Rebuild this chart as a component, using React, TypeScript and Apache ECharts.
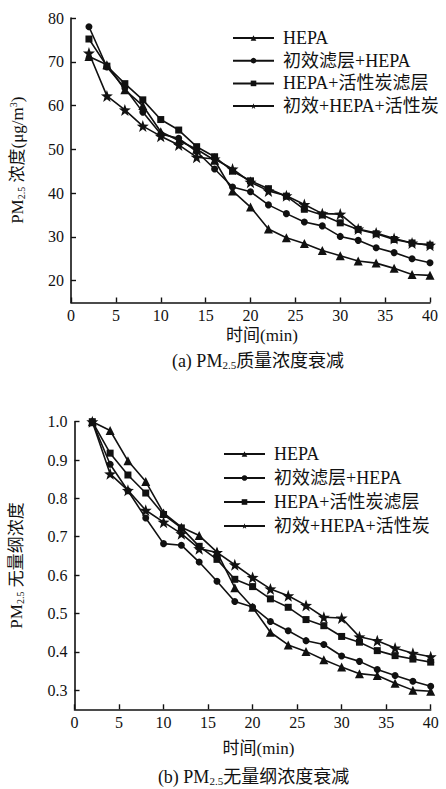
import React, { useEffect, useRef } from 'react';
import * as echarts from 'echarts';

const times = [2, 4, 6, 8, 10, 12, 14, 16, 18, 20, 22, 24, 26, 28, 30, 32, 34, 36, 38, 40];
const seriesNames = ['HEPA', '初效滤层+HEPA', 'HEPA+活性炭滤层', '初效+HEPA+活性炭'];

// (a) PM2.5 mass concentration (μg/m³)
const massHEPA = [71.2, 69.3, 63.6, 60, 54, 52, 50, 47.5, 40.5, 36.8, 31.8, 29.8, 28.5, 26.9, 25.7, 24.5, 24.0, 22.8, 21.4, 21.2];
const massPre = [78, 68.8, 64, 58.5, 53.5, 52.5, 49.5, 45.5, 41.4, 40.3, 37.3, 35.3, 33.4, 32.5, 30.1, 29.2, 27.5, 26.4, 25.0, 24.1];
const massCarbon = [75.2, 69, 65, 61.3, 56.8, 54.4, 50.6, 48.3, 45, 42.8, 41, 39.3, 36.3, 35, 33.2, 31.7, 30.7, 29.4, 28.6, 28.1];
const massAll = [72, 62.2, 59, 55.3, 53, 51, 48.2, 47.8, 45.5, 42.5, 40.5, 39.4, 37.4, 35.3, 35.2, 31.8, 30.9, 29.6, 28.6, 28.1];

// (b) dimensionless concentration
const normHEPA = [1.0, 0.977, 0.898, 0.844, 0.762, 0.725, 0.703, 0.66, 0.567, 0.516, 0.451, 0.418, 0.401, 0.379, 0.36, 0.343, 0.338, 0.318, 0.30, 0.297];
const normPre = [1.0, 0.889, 0.82, 0.749, 0.682, 0.678, 0.634, 0.584, 0.531, 0.517, 0.479, 0.455, 0.429, 0.419, 0.389, 0.375, 0.354, 0.338, 0.323, 0.31];
const normCarbon = [1.0, 0.918, 0.861, 0.814, 0.758, 0.723, 0.675, 0.641, 0.589, 0.57, 0.538, 0.516, 0.484, 0.468, 0.44, 0.425, 0.403, 0.39, 0.381, 0.373];
const normAll = [1.0, 0.864, 0.821, 0.769, 0.738, 0.708, 0.669, 0.659, 0.627, 0.594, 0.564, 0.546, 0.521, 0.49, 0.488, 0.439, 0.429, 0.41, 0.396, 0.387];

const xTicks = [0, 5, 10, 15, 20, 25, 30, 35, 40];
const yTicksA = [20, 30, 40, 50, 60, 70, 80];
const yTicksB = [0.3, 0.4, 0.5, 0.6, 0.7, 0.8, 0.9, 1.0];

const symbols = ['triangle', 'circle', 'rect', 'path://M50,0 L62,34 L98,35 L69,57 L80,92 L50,71 L20,92 L31,57 L2,35 L38,34 Z'];
const symbolSizes = [9, 7, 7, 12];

const FONT = '"Liberation Serif", "Times New Roman", "Noto Sans CJK SC", serif';
const BLACK = '#111';

const richSub = {
  sub: { fontSize: 10, fontFamily: FONT, color: BLACK, verticalAlign: 'bottom', lineHeight: 18 },
  sup: { fontSize: 10, fontFamily: FONT, color: BLACK, verticalAlign: 'top', lineHeight: 18 },
};

export default function App() {
  const ref = useRef<HTMLDivElement>(null);
  useEffect(() => {
    const chart = echarts.init(ref.current!, null, { renderer: 'svg' });

    const makeSeries = (gridIdx: number, arrays: number[][]) =>
      arrays.map((vals, i) => ({
        name: seriesNames[i],
        type: 'line',
        xAxisIndex: gridIdx,
        yAxisIndex: gridIdx,
        data: times.map((t, j) => [t, vals[j]]),
        symbol: symbols[i],
        symbolSize: symbolSizes[i],
        showAllSymbol: true,
        lineStyle: { color: BLACK, width: 1.6 },
        itemStyle: { color: BLACK, borderWidth: 0 },
        z: 2 + i,
      }));

    const xAxisBase = {
      type: 'value',
      min: 0,
      max: 40,
      interval: 5,
      axisLine: { lineStyle: { color: BLACK, width: 1.6 } },
      axisTick: { inside: true, length: 5, lineStyle: { color: BLACK, width: 1.4 } },
      axisLabel: { color: BLACK, fontSize: 16, fontFamily: FONT, margin: 5, customValues: xTicks },
      splitLine: { show: false },
    };

    const yAxisCommon = {
      type: 'value',
      axisLine: { show: true, lineStyle: { color: BLACK, width: 1.6 } },
      axisTick: { show: true, inside: true, length: 5, lineStyle: { color: BLACK, width: 1.4 } },
      splitLine: { show: false },
      nameLocation: 'middle',
      nameRotate: 90,
    };

    const legendBase = {
      orient: 'vertical',
      padding: 0,
      itemWidth: 41,
      itemHeight: 7,
      textStyle: { color: BLACK, fontSize: 18, fontFamily: FONT, lineHeight: 18, padding: [0, 0, 0, 4] },
      data: seriesNames,
      selectedMode: false,
    };

    chart.setOption({
      animation: false,
      backgroundColor: '#fff',
      grid: [
        { left: 69, top: 18, width: 361, height: 284.5 },
        { left: 70, top: 421.7, width: 360.7, height: 287.6 },
      ],
      xAxis: [
        { ...xAxisBase, gridIndex: 0 },
        { ...xAxisBase, gridIndex: 1 },
      ],
      yAxis: [
        {
          ...yAxisCommon,
          gridIndex: 0,
          min: 15,
          max: 80,
          axisTick: { ...yAxisCommon.axisTick, customValues: yTicksA },
          axisLabel: { color: BLACK, fontSize: 16, fontFamily: FONT, margin: 7, customValues: yTicksA },
          name: 'PM{sub|2.5} 浓度(μg/m{sup|3})',
          nameGap: 45,
          nameTextStyle: { color: BLACK, fontSize: 17, fontFamily: FONT, rich: richSub },
        },
        {
          ...yAxisCommon,
          gridIndex: 1,
          min: 0.25,
          max: 1.0,
          axisTick: { ...yAxisCommon.axisTick, customValues: yTicksB },
          axisLabel: {
            color: BLACK, fontSize: 16, fontFamily: FONT, margin: 7, customValues: yTicksB,
            formatter: (v: number) => v.toFixed(1),
          },
          name: 'PM{sub|2.5} 无量纲浓度',
          nameGap: 49,
          nameTextStyle: { color: BLACK, fontSize: 17, fontFamily: FONT, rich: richSub },
        },
      ],
      legend: [
        { ...legendBase, left: 232, top: 29, itemGap: 4.7 },
        { ...legendBase, left: 223, top: 445, itemGap: 6 },
      ],
      graphic: [
        {
          type: 'text', x: 262, y: 335,
          style: { text: '时间(min)', fontSize: 17, fontFamily: FONT, fill: BLACK, align: 'center', verticalAlign: 'middle' },
        },
        {
          type: 'text', x: 258, y: 361,
          style: {
            text: '(a) PM{sub|2.5}质量浓度衰减', fontSize: 18, fontFamily: FONT, fill: BLACK,
            align: 'center', verticalAlign: 'middle',
            rich: { sub: { fontSize: 11, fontFamily: FONT, fill: BLACK, verticalAlign: 'bottom', lineHeight: 18 } },
          },
        },
        {
          type: 'text', x: 258.5, y: 748,
          style: { text: '时间(min)', fontSize: 17, fontFamily: FONT, fill: BLACK, align: 'center', verticalAlign: 'middle' },
        },
        {
          type: 'text', x: 253.5, y: 777,
          style: {
            text: '(b) PM{sub|2.5}无量纲浓度衰减', fontSize: 18, fontFamily: FONT, fill: BLACK,
            align: 'center', verticalAlign: 'middle',
            rich: { sub: { fontSize: 11, fontFamily: FONT, fill: BLACK, verticalAlign: 'bottom', lineHeight: 18 } },
          },
        },
      ],
      series: [
        ...makeSeries(0, [massHEPA, massPre, massCarbon, massAll]),
        ...makeSeries(1, [normHEPA, normPre, normCarbon, normAll]),
      ],
    });

    return () => chart.dispose();
  }, []);

  return <div ref={ref} style={{ position: 'absolute', left: 0, top: 0, width: 446, height: 789 }} />;
}
